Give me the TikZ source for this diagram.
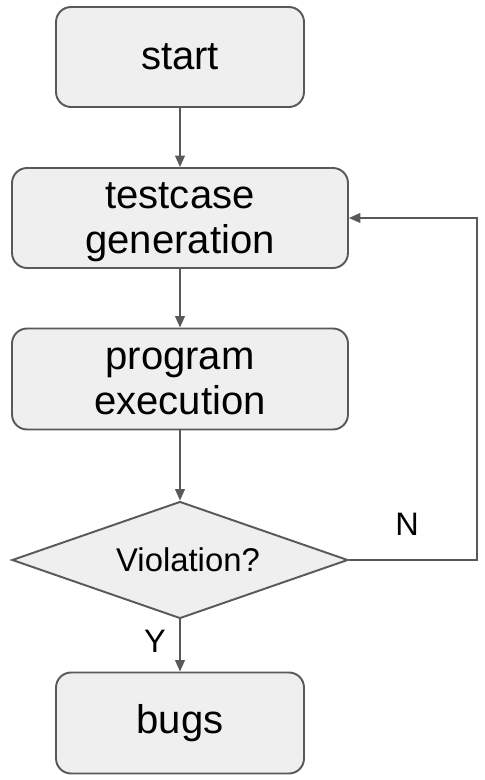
\documentclass[tikz,border=0pt]{standalone}
\usepackage{fontspec}
\setmainfont{Liberation Sans}
\usepackage{xcolor}
\usepackage{tikz}
\usetikzlibrary{arrows.meta,shapes.geometric}
\definecolor{linegray}{RGB}{89,89,89}
\definecolor{boxfill}{RGB}{239,239,239}
% two lines, set a little low in the box
\newcommand{\lowlines}[2]{\rule{0pt}{14.8pt}\smash{#1}\\\smash{#2}}
\tikzset{
    stepbox/.style={draw=linegray, fill=boxfill, line width=1.1pt, rounded corners=0.3cm,
        align=center, font=\fontsize{22.8}{26}\selectfont, inner sep=0pt},
    flow/.style={draw=linegray, line width=1.1pt, -{Triangle[length=6.5pt,width=5.5pt]}}
}
\begin{document}
\begin{tikzpicture}[x=0.02cm, y=-0.02cm]
        \useasboundingbox (0,0) rectangle (484,780);

        % Boxes
        \node[stepbox, minimum width=4.96cm, minimum height=2.0cm] (start) at (180,57) {start};
        \node[stepbox, minimum width=6.72cm, minimum height=2.0cm] (gen) at (180,218) {\lowlines{testcase}{generation}};
        \node[stepbox, minimum width=6.72cm, minimum height=2.02cm] (exec) at (180,379) {\lowlines{program}{execution}};
        \node[draw=linegray, fill=boxfill, line width=1.1pt, shape=diamond, aspect=2.87,
              minimum width=6.72cm, minimum height=2.34cm, inner sep=0pt,
              font=\fontsize{18.7}{22}\selectfont] (check) at (180,560) {\hspace{0.32cm}Violation?};
        \node[stepbox, minimum width=4.96cm, minimum height=2.02cm] (bugs) at (180,723) {bugs};

        % Arrows
        \draw[flow] (start) -- (gen);
        \draw[flow] (gen) -- (exec);
        \draw[flow] (exec) -- (check);
        \draw[flow] (check) -- (bugs);
        \draw[flow] (check.east) -- ++(128,0) |- (gen.east);

        % Labels
        \node[font=\fontsize{18.5}{22}\selectfont] (no) at (407,524) {N};
        \node[font=\fontsize{18.5}{22}\selectfont] (yes) at (155,641) {Y};
    \end{tikzpicture}
\end{document}
